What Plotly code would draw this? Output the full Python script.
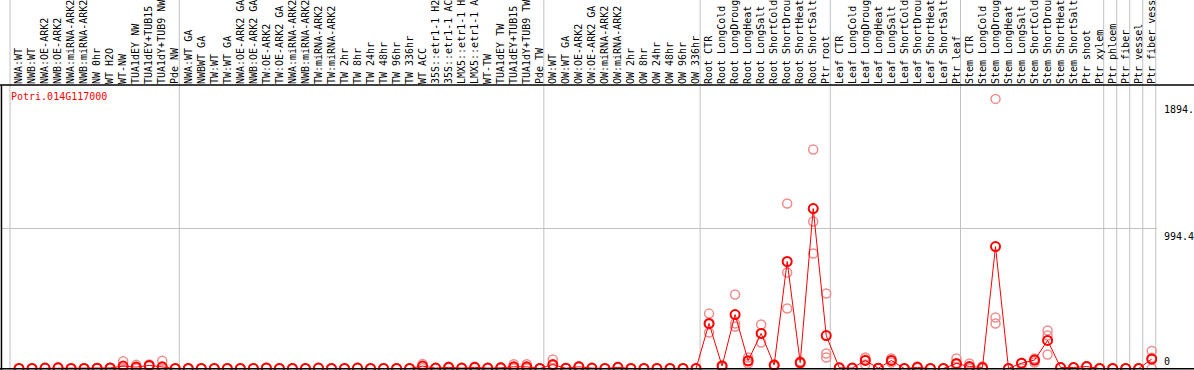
import plotly.graph_objects as go

# ---------------- data ----------------
grp_nw = ["NWA:WT", "NWB:WT", "NWA:OE-ARK2", "NWB:OE-ARK2", "NWA:miRNA-ARK2", "NWB:miRNA-ARK2",
          "NW 0hr", "WT H2O", "WT-NW", "TUA1dEY NW", "TUA1dEY+TUB15 NW", "TUA1dY+TUB9 NW", "Pde NW"]
grp_tw = ["NWA:WT GA", "NWBWT GA", "TW:WT", "TW:WT GA", "NWA:OE-ARK2 GA", "NWB:OE-ARK2 GA",
          "TW:OE-ARK2", "TW:OE-ARK2 GA", "NWA:miRNA-ARK2 GA", "NWB:miRNA-ARK2 GA", "TW:miRNA-ARK2",
          "TW:miRNA-ARK2 GA", "TW 2hr", "TW 8hr", "TW 24hr", "TW 48hr", "TW 96hr", "TW 336hr",
          "WT ACC", "35S::etr1-1 H2O", "35S::etr1-1 ACC", "LMX5::etr1-1 H2O", "LMX5::etr1-1 ACC",
          "WT-TW", "TUA1dEY TW", "TUA1dEY+TUB15 TW", "TUA1dY+TUB9 TW", "Pde TW"]
grp_ow = ["OW:WT", "OW:WT GA", "OW:OE-ARK2", "OW:OE-ARK2 GA", "OW:miRNA-ARK2", "OW:miRNA-ARK2 GA",
          "OW 2hr", "OW 8hr", "OW 24hr", "OW 48hr", "OW 96hr", "OW 336hr"]
grp_root = ["Root CTR", "Root LongCold", "Root LongDrought", "Root LongHeat", "Root LongSalt",
            "Root ShortCold", "Root ShortDrought", "Root ShortHeat", "Root ShortSalt", "Ptr root"]
grp_leaf = ["Leaf CTR", "Leaf LongCold", "Leaf LongDrought", "Leaf LongHeat", "Leaf LongSalt",
            "Leaf ShortCold", "Leaf ShortDrought", "Leaf ShortHeat", "Leaf ShortSalt", "Ptr leaf"]
grp_stem = ["Stem CTR", "Stem LongCold", "Stem LongDrought", "Stem LongHeat", "Stem LongSalt",
            "Stem ShortCold", "Stem ShortDrought", "Stem ShortHeat", "Stem ShortSalt", "Ptr shoot", "Ptr xylem"]
grp_ptr = ["Ptr phloem", "Ptr fiber", "Ptr vessel", "Ptr fiber vessel"]

groups = [grp_nw, grp_tw, grp_ow, grp_root, grp_leaf, grp_stem, ["Ptr phloem"], ["Ptr fiber"],
          ["Ptr vessel"], ["Ptr fiber vessel"]]

mean_nw = [0, 0, 3, 5, 0, 0, 2, 4, 17, 10, 22, 12, 0]
mean_tw = [0, 0, 0, 0, 0, 0, 4, 0, 0, 0, 3, 0, 0, 3, 0, 0, 0, 0, 17, 3, 8, 3, 8, 3, 5, 12, 12, 0]
mean_ow = [28, 2, 12, 3, 0, 8, 0, 0, 0, 0, 0, 0]
mean_root = [320, 18, 383, 55, 249, 24, 760, 42, 1136, 234]
mean_leaf = [5, 3, 57, 2, 57, 0, 8, 0, 0, 36]
mean_stem = [14, 7, 866, 0, 38, 60, 199, 7, 7, 14, 0]
mean_ptr = [0, 0, 0, 67]

rep_hi = ([0, 0, 4, 8, 0, 0, 3, 6, 52, 26, 28, 55, 0]
          + [0, 0, 0, 0, 0, 0, 6, 0, 0, 0, 5, 0, 0, 5, 0, 0, 0, 0, 32, 4, 12, 4, 12, 4, 8, 30, 30, 0]
          + [64, 3, 16, 4, 0, 10, 0, 0, 0, 0, 0, 0]
          + [390, 21, 525, 78, 312, 28, 1172, 50, 1555, 533]
          + [7, 4, 78, 3, 71, 0, 14, 0, 0, 71]
          + [36, 14, 1915, 0, 40, 71, 270, 8, 8, 16, 0]
          + [0, 0, 0, 124])
rep_mid = ([0, 0, 3, 5, 0, 0, 2, 4, 5, 5, 22, 5, 0]
           + [0, 0, 0, 0, 0, 0, 4, 0, 0, 0, 3, 0, 0, 3, 0, 0, 0, 0, 17, 3, 8, 3, 8, 3, 5, 5, 5, 0]
           + [20, 2, 12, 3, 0, 8, 0, 0, 0, 0, 0, 0]
           + [314, 14, 320, 51, 250, 21, 682, 42, 1044, 107]
           + [5, 3, 64, 2, 57, 0, 7, 0, 0, 28]
           + [7, 7, 362, 0, 36, 57, 234, 7, 7, 14, 0]
           + [0, 0, 0, 77])
rep_lo = ([0, 0, 2, 2, 0, 0, 1, 2, 0, 0, 16, 0, 0]
          + [0, 0, 0, 0, 0, 0, 2, 0, 0, 0, 1, 0, 0, 1, 0, 0, 0, 0, 2, 2, 4, 2, 4, 2, 2, 0, 0, 0]
          + [0, 1, 8, 2, 0, 6, 0, 0, 0, 0, 0, 0]
          + [256, 10, 298, 36, 185, 14, 426, 35, 817, 78]
          + [3, 2, 28, 1, 43, 0, 3, 0, 0, 7]
          + [0, 0, 320, 0, 0, 43, 99, 6, 6, 10, 0]
          + [0, 0, 0, 0])

y_ticks = [0, 994.4, 1894.8]
y_tick_text = ["0", "994.4", "1894.8"]
gene_name = "Potri.014G117000"

# ---------------- build ----------------
labels = grp_nw + grp_tw + grp_ow + grp_root + grp_leaf + grp_stem + grp_ptr
means = mean_nw + mean_tw + mean_ow + mean_root + mean_leaf + mean_stem + mean_ptr
xs = list(range(len(labels)))

MONO = "DejaVu Sans Mono"
RED = "#ff0000"
PINK = "#f08c8c"
GRID = "#c0c0c0"

fig = go.Figure()

# replicates
rx, ry = [], []
for reps in (rep_hi, rep_mid, rep_lo):
    rx += xs
    ry += reps
fig.add_trace(go.Scatter(
    x=rx, y=ry, mode="markers",
    marker=dict(symbol="circle-open", size=9, color=PINK, line=dict(width=1.5, color=PINK)),
    hoverinfo="skip", showlegend=False))

# means
fig.add_trace(go.Scatter(
    x=xs, y=means, mode="lines+markers",
    line=dict(color=RED, width=1),
    marker=dict(symbol="circle-open", size=9, color=RED, line=dict(width=2, color=RED)),
    showlegend=False))

shapes = []
# group boundary grid lines (extend through header)
b = 0
bounds = [0]
for g in groups:
    b += len(g)
    bounds.append(b)
for bd in bounds:
    xb = bd - 0.69
    shapes.append(dict(type="line", xref="x", yref="paper", x0=xb, x1=xb, y0=0, y1=1.31,
                       line=dict(color=GRID, width=1), layer="below"))
# horizontal grid at middle tick
shapes.append(dict(type="line", xref="paper", yref="y", x0=0, x1=1, y0=y_ticks[1], y1=y_ticks[1],
                   line=dict(color=GRID, width=1), layer="below"))
# frame lines
shapes.append(dict(type="line", xref="paper", yref="paper", x0=-0.01, x1=1.04, y0=1, y1=1,
                   line=dict(color="black", width=1.5)))
shapes.append(dict(type="line", xref="paper", yref="paper", x0=0.0004, x1=0.0004, y0=0, y1=1,
                   line=dict(color="black", width=1.5)))
shapes.append(dict(type="line", xref="paper", yref="paper", x0=-0.01, x1=1.04, y0=0.004, y1=0.004,
                   line=dict(color="black", width=1.5)))

annotations = [
    dict(text=gene_name, xref="paper", yref="paper", x=0.0068, y=0.958, xanchor="left",
         yanchor="middle", showarrow=False, font=dict(family=MONO, size=10, color=RED)),
]
for v, t in zip(y_ticks, y_tick_text):
    annotations.append(dict(text=t, xref="paper", yref="y", x=1, xshift=5, y=v, xanchor="left",
                            yanchor="bottom" if v == 0 else "top", showarrow=False,
                            font=dict(family=MONO, size=10, color="black")))

fig.update_layout(
    width=1194, height=370,
    margin=dict(l=1, r=37, t=85, b=0, pad=0),
    paper_bgcolor="white", plot_bgcolor="white",
    shapes=shapes, annotations=annotations,
    xaxis=dict(range=[-1.3825, 87.404], side="top", tickmode="array", tickvals=xs, ticktext=labels,
               tickangle=-90, ticks="", showgrid=False, zeroline=False, showline=False,
               automargin=False, tickfont=dict(family=MONO, size=10, color="black")),
    yaxis=dict(range=[-10.65, 2013.6], showticklabels=False, ticks="", showgrid=False,
               zeroline=False, showline=False, automargin=False),
    font=dict(family=MONO, size=10),
)

fig.write_html(
    "out.html",
    config={"displayModeBar": False},
    post_script="document.body.style.margin='0';document.body.style.padding='0';"
                "document.body.style.overflow='hidden';",
)
